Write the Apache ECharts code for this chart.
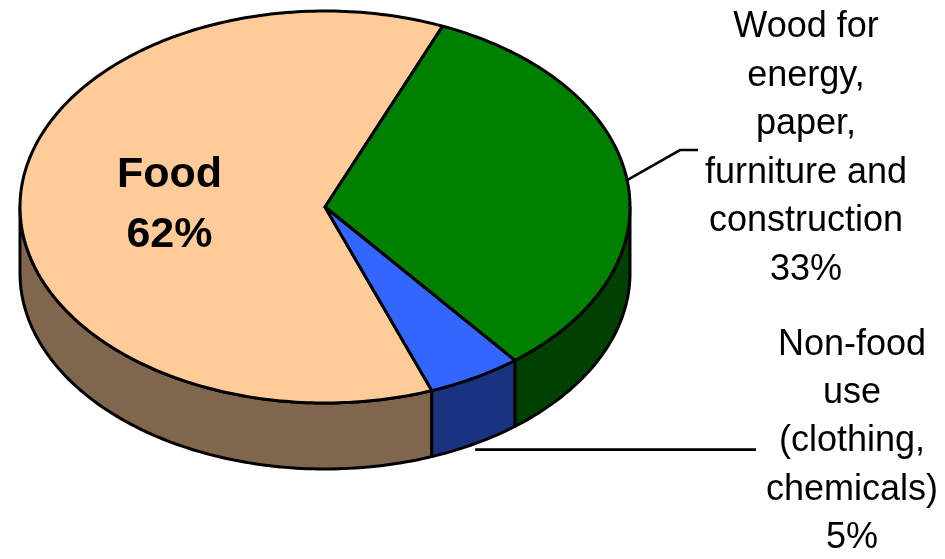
<!DOCTYPE html>
<html>
<head>
<meta charset="utf-8">
<script src="https://cdn.jsdelivr.net/npm/echarts@6/dist/echarts.min.js"></script>
<style>
  html, body { margin: 0; padding: 0; background: #ffffff; }
  #chart { width: 945px; height: 559px; }
</style>
</head>
<body>
<div id="chart"></div>
<script>
// Uses of harvested biomass (share of total, %)
const categories = ['Food', 'Wood', 'Non-food'];
const values = [62, 33, 5];
const labelTexts = [
  'Food',
  'Wood for\nenergy,\npaper,\nfurniture and\nconstruction',
  'Non-food\nuse\n(clothing,\nchemicals)'
];

// Top face and side wall colour of each slice
const topColors = ['#FFCC99', '#008000', '#3366FF'];
const sideColors = ['#80664D', '#004000', '#1A3380'];

// Tilted disc: ellipse centre, radii, wall height, first slice angle (deg clockwise from 12 o'clock)
const disc = { cx: 325, cy: 207, rx: 305, ry: 196, depth: 66, startAngle: 159.5 };

// Label placement
const labelLayout = [
  { inside: true, r: 0.51, fontSize: 43, bold: true, lineHeight: 60 },
  { x: 806, y: 148.5, fontSize: 36, lineHeight: 48.5, rim: 'top', elbow: [680, 150], endX: 698 },
  { x: 852, y: 441.5, fontSize: 36, lineHeight: 48.25, rim: 'bottom', dy: 6, endX: 756 }
];

const total = values.reduce((a, b) => a + b, 0);
const startAngles = [];
(function () {
  let acc = 0;
  values.forEach(function (v) {
    startAngles.push(disc.startAngle - 90 + 360 * acc / total);
    acc += v;
  });
})();

function pt(t, dz) {
  const r = t * Math.PI / 180;
  return [disc.cx + disc.rx * Math.cos(r), disc.cy + disc.ry * Math.sin(r) + (dz || 0)];
}

function arc(a, b, dz) {
  const pts = [];
  const n = Math.max(2, Math.ceil(Math.abs(b - a)));
  for (let i = 0; i <= n; i++) pts.push(pt(a + (b - a) * i / n, dz));
  return pts;
}

const FONT = '"Liberation Sans", Arial, Helvetica, sans-serif';
const EDGE = 3;

function renderItem(params, api) {
  const i = params.dataIndex;
  const v = api.value(1);
  const t1 = startAngles[i];
  const t2 = t1 + 360 * v / total;
  const children = [];

  // Outer wall: only the front half of the disc (0..180 deg) is visible
  for (let k = -360; k <= 720; k += 360) {
    const a = Math.max(t1, k);
    const b = Math.min(t2, k + 180);
    if (b > a) {
      const pts = arc(a, b, 0).concat(arc(b, a, disc.depth));
      children.push({
        type: 'polygon', z2: 1,
        shape: { points: pts },
        style: { fill: sideColors[i], stroke: '#000', lineWidth: EDGE, lineJoin: 'round' }
      });
    }
  }

  // Top face sector
  children.push({
    type: 'polygon', z2: 2,
    shape: { points: [[disc.cx, disc.cy]].concat(arc(t1, t2, 0)) },
    style: { fill: topColors[i], stroke: '#000', lineWidth: EDGE, lineJoin: 'round' }
  });

  // Label
  const L = labelLayout[i];
  const mid = (t1 + t2) / 2;
  const text = labelTexts[i] + '\n' + v + '%';
  let lx, ly;
  if (L.inside) {
    const r = mid * Math.PI / 180;
    lx = disc.cx + L.r * disc.rx * Math.cos(r);
    ly = disc.cy + L.r * disc.ry * Math.sin(r);
  } else {
    lx = L.x; ly = L.y;
    let p;
    if (L.rim === 'top') {
      p = pt(mid, 0);
      children.push({
        type: 'polyline', z2: 3,
        shape: { points: [p, L.elbow, [L.endX, L.elbow[1]]] },
        style: { stroke: '#000', lineWidth: 2.6, fill: null }
      });
    } else {
      p = pt(mid, disc.depth);
      const y = p[1] + (L.dy || 0);
      children.push({
        type: 'polyline', z2: 3,
        shape: { points: [[p[0], y], [L.endX, y]] },
        style: { stroke: '#000', lineWidth: 2.6, fill: null }
      });
    }
  }
  children.push({
    type: 'text', z2: 4,
    style: {
      text: text,
      x: lx, y: ly,
      fill: '#000',
      fontSize: L.fontSize,
      fontWeight: L.bold ? 'bold' : 'normal',
      fontFamily: FONT,
      lineHeight: L.lineHeight,
      align: 'center',
      verticalAlign: 'middle'
    }
  });

  return { type: 'group', children: children };
}

const chart = echarts.init(document.getElementById('chart'), null, { renderer: 'canvas' });
chart.setOption({
  backgroundColor: '#ffffff',
  animation: false,
  series: [{
    type: 'custom',
    coordinateSystem: 'none',
    silent: true,
    renderItem: renderItem,
    data: values.map(function (v, i) { return { name: categories[i], value: [i, v] }; })
  }]
});
</script>
</body>
</html>
